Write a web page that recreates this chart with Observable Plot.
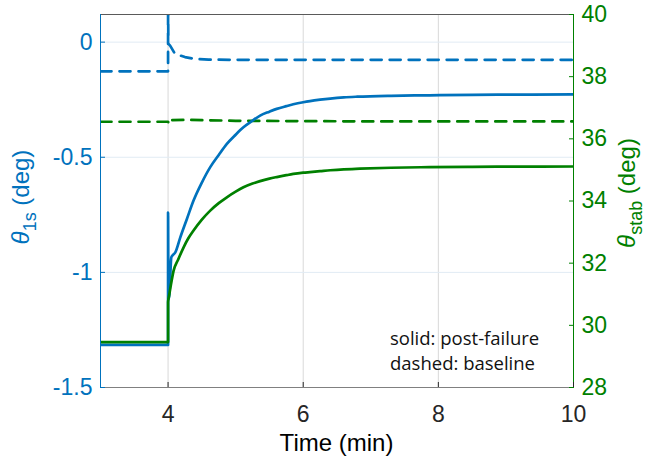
<!DOCTYPE html>
<html>
<head>
<meta charset="utf-8">
<script src="https://cdn.jsdelivr.net/npm/d3@7"></script>
<script src="https://cdn.jsdelivr.net/npm/@observablehq/plot@0.6"></script>
<style>
  html, body { margin: 0; padding: 0; background: #ffffff; }
  #chart { width: 651px; height: 463px; }
</style>
</head>
<body>
<div id="chart"></div>
<script>
// ---------- data ----------
const timeDomain = [3, 10];
const leftDomain = [-1.5, 0.12];      // theta_1s (deg)
const rightDomain = [28, 40];         // theta_stab (deg)
const xTicks = [4, 6, 8, 10];
const xGrid = [4, 6, 8];
const leftTicks = [0, -0.5, -1, -1.5];
const leftGrid = [0, -0.5, -1];
const rightTicks = [28, 30, 32, 34, 36, 38, 40];

// theta_1s, post-failure (solid blue)
const t1sSolidTime = [3, 4.0, 4.0, 4.005, 4.02, 4.048, 4.07, 4.107, 4.181, 4.28, 4.377, 4.5, 4.624, 4.75, 4.87, 5.0, 5.115, 5.25, 5.362, 5.5, 5.608, 5.75, 5.853, 6.0, 6.1, 6.25, 6.4, 6.6, 6.8, 7.3, 7.87, 8.5, 9.2, 10];
const t1sSolidVal  = [-1.315, -1.315, -0.74, -1.12, -1.093, -0.935, -0.925, -0.913, -0.848, -0.767, -0.688, -0.61, -0.543, -0.49, -0.442, -0.402, -0.370, -0.341, -0.319, -0.302, -0.290, -0.278, -0.270, -0.261, -0.256, -0.250, -0.245, -0.240, -0.237, -0.233, -0.231, -0.229, -0.228, -0.227];

// theta_1s, baseline (dashed blue)
const t1sDashTime = [3, 4.0, 4.0, 4.004, 4.03, 4.1, 4.25, 4.38, 4.6, 5.0, 6, 8, 10];
const t1sDashVal  = [-0.127, -0.127, 0.2, -0.007, -0.015, -0.05, -0.065, -0.072, -0.076, -0.077, -0.077, -0.077, -0.077];

// theta_stab, post-failure (solid green)
const stabSolidTime = [3, 4.0, 4.0, 4.015, 4.04, 4.082, 4.15, 4.23, 4.3, 4.377, 4.5, 4.624, 4.75, 4.87, 5.0, 5.115, 5.25, 5.362, 5.5, 5.608, 5.75, 5.853, 6.0, 6.1, 6.25, 6.4, 6.6, 6.84, 7.3, 7.87, 8.5, 9.2, 10];
const stabSolidVal  = [29.46, 29.46, 30.75, 30.95, 31.28, 31.76, 32.12, 32.51, 32.8, 33.05, 33.4, 33.69, 33.93, 34.12, 34.3, 34.44, 34.56, 34.64, 34.72, 34.77, 34.83, 34.87, 34.91, 34.93, 34.96, 34.99, 35.02, 35.04, 35.07, 35.09, 35.10, 35.105, 35.11];

// theta_stab, baseline (dashed green)
const stabDashTime = [3, 4.0, 4.012, 4.03, 4.3, 5, 7, 10];
const stabDashVal  = [36.55, 36.55, 36.48, 36.6, 36.61, 36.58, 36.56, 36.56];

const legendLines = ["solid: post-failure", "dashed: baseline"];

// ---------- styling ----------
const BLUE = "#0072BD";
const GREEN = "#008000";
const FONT = "'Liberation Sans', Arial, sans-serif";

// map the right axis (theta_stab) onto the left scale
const toLeft = d3.scaleLinear().domain(rightDomain).range(leftDomain);

const zip = (ts, vs) => ts.map((t, i) => ({t, v: vs[i]}));
const blueSolid = zip(t1sSolidTime, t1sSolidVal);
const blueDash = zip(t1sDashTime, t1sDashVal);
const greenSolid = zip(stabSolidTime, stabSolidVal).map(d => ({t: d.t, v: toLeft(d.v)}));
const greenDash = zip(stabDashTime, stabDashVal).map(d => ({t: d.t, v: toLeft(d.v)}));

const W = 651, H = 463;
const plot = Plot.plot({
  width: W,
  height: H,
  marginTop: 14,
  marginRight: 78,
  marginBottom: 76,
  marginLeft: 100,
  style: {fontFamily: FONT, background: "#ffffff", overflow: "visible"},
  x: {domain: timeDomain},
  y: {domain: leftDomain},
  marks: [
    Plot.gridX(xGrid, {stroke: "#d9d9d9", strokeOpacity: 1}),
    Plot.gridY(leftGrid, {stroke: "#e1ebf4", strokeOpacity: 1}),
    Plot.line(blueDash, {x: "t", y: "v", stroke: BLUE, strokeWidth: 2.7, strokeDasharray: "11,8", clip: true}),
    Plot.line(greenDash, {x: "t", y: "v", stroke: GREEN, strokeWidth: 2.7, strokeDasharray: "11,8", clip: true}),
    Plot.line(blueSolid, {x: "t", y: "v", stroke: BLUE, strokeWidth: 2.7, clip: true, curve: "monotone-x"}),
    Plot.line(greenSolid, {x: "t", y: "v", stroke: GREEN, strokeWidth: 2.7, clip: true, curve: "monotone-x"}),
    Plot.ruleY([leftDomain[1]], {stroke: "#5a5a5a", strokeWidth: 1}),
    Plot.ruleY([leftDomain[0]], {stroke: "#808080", strokeWidth: 1.2}),
    Plot.ruleX([timeDomain[0]], {stroke: BLUE, strokeWidth: 1}),
    Plot.ruleX([timeDomain[1]], {stroke: GREEN, strokeWidth: 1}),
    Plot.axisX({ticks: xTicks, tickFormat: d => String(d), tickSize: -5, tickPadding: 23,
      fontSize: 23, fill: "#262626", stroke: "#262626", label: null}),
    Plot.axisY({ticks: leftTicks, tickFormat: d => String(d), tickSize: -5, tickPadding: 13,
      fontSize: 23, fill: BLUE, stroke: BLUE, label: null}),
    Plot.axisY({anchor: "right", ticks: rightTicks.map(d => toLeft(d)),
      tickFormat: d => String(Math.round(toLeft.invert(d))), tickSize: -5, tickPadding: 13,
      fontSize: 23, fill: GREEN, stroke: GREEN, label: null})
  ]
});

document.getElementById("chart").appendChild(plot);

// ---------- titles and annotation ----------
const svg = d3.select(plot);
const cx = 100 + (W - 78 - 100) / 2;

svg.append("text")
  .attr("x", cx).attr("y", 451)
  .attr("text-anchor", "middle")
  .attr("font-family", FONT).attr("font-size", 24).attr("fill", "#000")
  .text("Time (min)");

function yTitle(x, y, color, sub) {
  const t = svg.append("text")
    .attr("transform", `translate(${x},${y}) rotate(-90)`)
    .attr("text-anchor", "middle")
    .attr("font-family", FONT).attr("font-size", 24).attr("fill", color);
  t.append("tspan").attr("font-style", "italic").text("θ");
  t.append("tspan").attr("font-size", 18).attr("dy", 7).text(sub);
  t.append("tspan").attr("dy", -7).text(" (deg)");
}
yTitle(29, 197, BLUE, "1s");
yTitle(635, 193, GREEN, "stab");

legendLines.forEach((s, i) => {
  svg.append("text")
    .attr("x", 390).attr("y", 345 + i * 25)
    .attr("text-anchor", "start")
    .attr("font-family", "'Open Sans', sans-serif").attr("font-size", 18.5).attr("fill", "#111")
    .text(s);
});
</script>
</body>
</html>
